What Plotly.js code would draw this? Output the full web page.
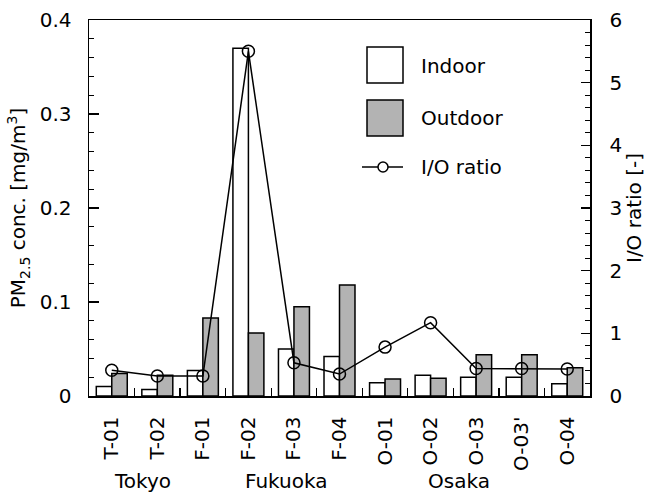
<!DOCTYPE html>
<html>
<head>
<meta charset="utf-8">
<script src="https://cdn.plot.ly/plotly-3.0.1.min.js"></script>
<style>html,body{margin:0;padding:0;background:#fff;}#chart{width:646px;height:493px;}</style>
</head>
<body>
<div id="chart"></div>
<script>
const sites = ["T-01","T-02","F-01","F-02","F-03","F-04","O-01","O-02","O-03","O-03'","O-04"];
const indoor = [0.010,0.007,0.027,0.370,0.050,0.042,0.014,0.022,0.020,0.020,0.013];
const outdoor = [0.024,0.022,0.083,0.067,0.095,0.118,0.018,0.019,0.044,0.044,0.030];
const ioRatio = [0.41,0.32,0.32,5.5,0.53,0.35,0.78,1.17,0.44,0.44,0.43];
const cities = ["Tokyo","Fukuoka","Osaka"];
const legendNames = ["Indoor","Outdoor","I/O ratio"];

const FONT = "DejaVu Sans, Noto Sans, sans-serif";
const FS = 20;
const L = 89, R = 590, T = 20, B = 396, W = 646, H = 493;
const px = v => (v - L) / (R - L);
const py = v => (B - v) / (B - T);

const traces = [
  {type:'bar', name:legendNames[0], x:sites, y:indoor, yaxis:'y',
   marker:{color:'#ffffff', line:{color:'#000', width:1.5}}, showlegend:false},
  {type:'bar', name:legendNames[1], x:sites, y:outdoor, yaxis:'y',
   marker:{color:'#b3b3b3', line:{color:'#000', width:1.5}}, showlegend:false},
  {type:'scatter', mode:'lines+markers', name:legendNames[2], x:sites, y:ioRatio, yaxis:'y2',
   line:{color:'#000', width:1.5},
   marker:{symbol:'circle-open', size:12, color:'#000', line:{width:1.5}}, showlegend:false}
];

const shapes = [
  {type:'rect', xref:'paper', yref:'paper', x0:px(367), x1:px(403), y0:py(83), y1:py(47), line:{color:'#000', width:1.5}, fillcolor:'#fff'},
  {type:'rect', xref:'paper', yref:'paper', x0:px(367), x1:px(403), y0:py(136), y1:py(100), line:{color:'#000', width:1.5}, fillcolor:'#b3b3b3'},
  {type:'line', xref:'paper', yref:'paper', x0:px(362), x1:px(403), y0:py(167), y1:py(167), line:{color:'#000', width:1.5}},
  {type:'circle', xref:'paper', yref:'paper', x0:px(378), x1:px(388), y0:py(172), y1:py(162), line:{color:'#000', width:1.5}, fillcolor:'#fff'}
];

const annotations = [
  {text:legendNames[0], x:px(419), y:py(66), xanchor:'left', yanchor:'middle'},
  {text:legendNames[1], x:px(419), y:py(118), xanchor:'left', yanchor:'middle'},
  {text:legendNames[2], x:px(419), y:py(167), xanchor:'left', yanchor:'middle'},
  {text:cities[0], x:px(142), y:py(481), xanchor:'center', yanchor:'middle'},
  {text:cities[1], x:px(286), y:py(481), xanchor:'center', yanchor:'middle'},
  {text:cities[2], x:px(459), y:py(481), xanchor:'center', yanchor:'middle'}
].map(a => Object.assign({xref:'paper', yref:'paper', showarrow:false, font:{family:FONT, size:FS, color:'#000'}}, a));

const layout = {
  width:W, height:H,
  margin:{l:L, r:W-R, t:T, b:H-B, pad:0},
  paper_bgcolor:'#fff', plot_bgcolor:'#fff',
  font:{family:FONT, size:FS, color:'#000'},
  barmode:'group', bargap:0.32, bargroupgap:0,
  showlegend:false,
  xaxis:{type:'category', range:[-0.5,10.5], showline:true, linecolor:'#000', linewidth:1.5,
    mirror:true, ticks:'inside', tickson:'boundaries', ticklen:8, tickwidth:1.2, tickcolor:'#000',
    tickangle:-90, showgrid:false, zeroline:false, ticklabelstandoff:11,
    tickfont:{family:FONT, size:FS}},
  yaxis:{range:[0,0.4], tickvals:[0,0.1,0.2,0.3,0.4], ticktext:['0','0.1','0.2','0.3','0.4'],
    showline:true, linecolor:'#000', linewidth:1.5,
    ticks:'inside', ticklen:10, tickwidth:1.2, tickcolor:'#000', showgrid:false, zeroline:false,
    minor:{ticks:'inside', dtick:0.02, ticklen:5, tickwidth:1, tickcolor:'#000', showgrid:false},
    ticklabelstandoff:12,
    title:{text:'PM<sub>2.5</sub> conc. [mg/m<sup>3</sup>]', font:{family:FONT, size:FS}, standoff:8}},
  yaxis2:{range:[0,6], dtick:1, overlaying:'y', side:'right',
    showline:true, linecolor:'#000', linewidth:1.5,
    ticks:'inside', ticklen:9, tickwidth:1.2, tickcolor:'#000', showgrid:false, zeroline:false,
    minor:{ticks:'inside', dtick:0.2, ticklen:5, tickwidth:1, tickcolor:'#000', showgrid:false},
    ticklabelstandoff:14,
    title:{text:'I/O ratio [-]', font:{family:FONT, size:FS}, standoff:4}},
  shapes:shapes,
  annotations:annotations
};

Plotly.newPlot('chart', traces, layout, {displayModeBar:false, staticPlot:true});
</script>
</body>
</html>
